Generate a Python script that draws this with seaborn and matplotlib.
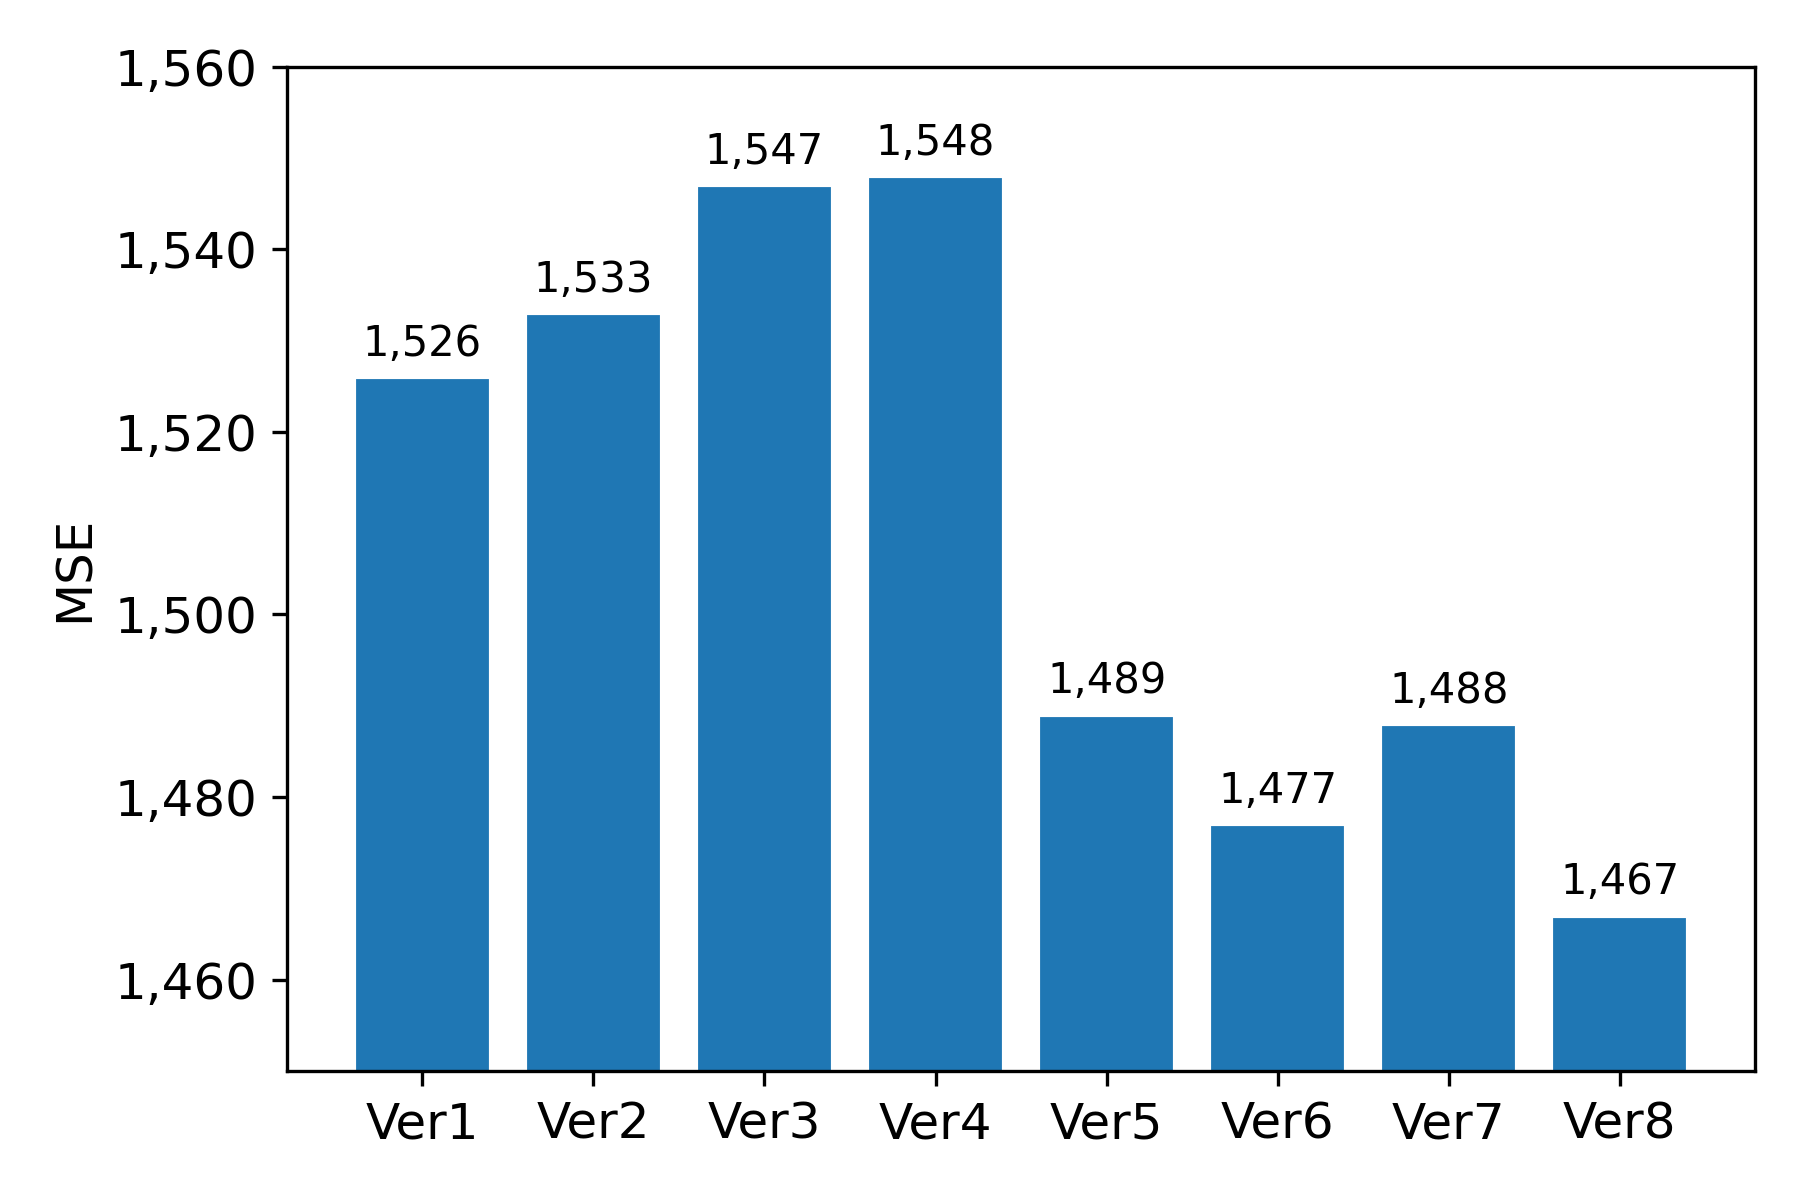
import matplotlib
matplotlib.use("Agg")
import matplotlib.pyplot as plt
import matplotlib.ticker as mticker
import seaborn as sns
import pandas as pd

versions = ["Ver1", "Ver2", "Ver3", "Ver4", "Ver5", "Ver6", "Ver7", "Ver8"]
mse = [1526, 1533, 1547, 1548, 1489, 1477, 1488, 1467]

df = pd.DataFrame({"version": versions, "MSE": mse})

sns.set_style("ticks")
plt.rcParams["font.family"] = ["DejaVu Sans"]
plt.rcParams["text.color"] = "black"
plt.rcParams["axes.labelcolor"] = "black"

fig = plt.figure(figsize=(6, 4), dpi=300)
ax = fig.add_axes([0.1595, 0.1075, 0.8155, 0.837])
sns.barplot(data=df, x="version", y="MSE", color="#1f77b4", saturation=1,
            width=0.8, ax=ax, errorbar=None)

for c in ax.containers:
    ax.bar_label(c, labels=[f"{v:,.0f}" for v in c.datavalues], padding=3,
                 fontsize=10, color="black")

ax.set_xlim(-0.79, 7.79)
ax.set_ylim(1450, 1560)
ax.set_yticks([1460, 1480, 1500, 1520, 1540, 1560])
ax.yaxis.set_major_formatter(mticker.FuncFormatter(lambda v, p: f"{v:,.0f}"))
ax.set_xlabel("")
ax.set_ylabel("MSE", fontsize=12, color="black")
ax.tick_params(axis="both", labelsize=12, direction="out", length=3.5, width=0.8,
               colors="black")
for s in ax.spines.values():
    s.set_visible(True)
    s.set_linewidth(0.8)
    s.set_color("black")

fig.savefig("out.png", dpi=300)
